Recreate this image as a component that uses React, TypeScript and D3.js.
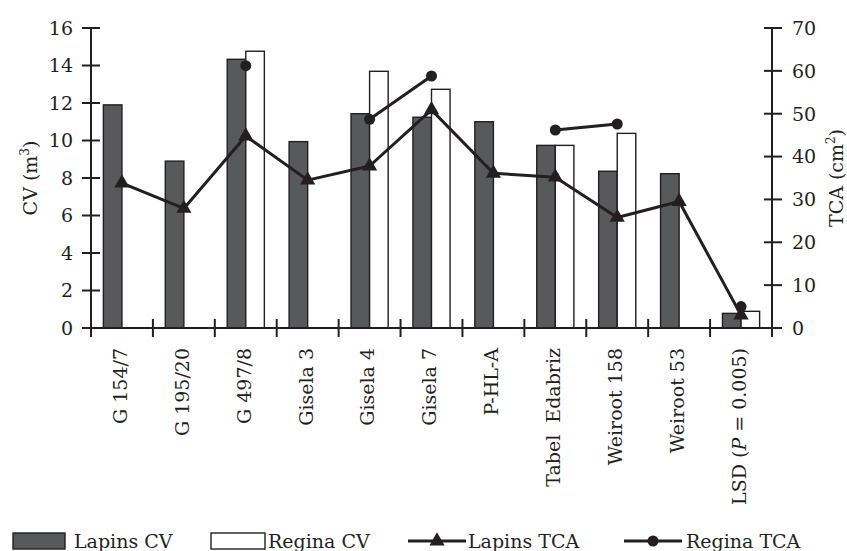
import React from "react";
import * as d3 from "d3";

const categories = ["G 154/7", "G 195/20", "G 497/8", "Gisela 3", "Gisela 4", "Gisela 7", "P-HL-A", "Tabel  Edabriz", "Weiroot 158", "Weiroot 53", "LSD"];
const lapinsCV = [11.9, 8.9, 14.33, 9.94, 11.43, 11.24, 11.0, 9.74, 8.36, 8.23, 0.78];
const reginaCV: (number | null)[] = [null, null, 14.76, null, 13.69, 12.73, null, 9.74, 10.38, null, 0.89];
const lapinsTCA = [33.8, 27.9, 44.8, 34.5, 37.8, 50.9, 36.1, 35.2, 25.8, 29.5, 3.0];
const reginaTCA: (number | null)[] = [null, null, 61.2, null, 48.7, 58.8, null, 46.2, 47.6, null, 5.0];
const leftTicks = [0, 2, 4, 6, 8, 10, 12, 14, 16];
const rightTicks = [0, 10, 20, 30, 40, 50, 60, 70];

const FONT = "'DejaVu Serif', serif";
const INK = "#231f20";
const BAR = "#58595b";

export default function App() {
  const x = d3.scaleBand<string>().domain(categories).range([91, 772]).padding(0);
  const yL = d3.scaleLinear().domain([0, 16]).range([328, 28]);
  const yR = d3.scaleLinear().domain([0, 70]).range([328, 28]);
  const bw = x.bandwidth() * 0.3;
  const cx = (i: number) => (x(categories[i]) as number) + x.bandwidth() / 2;

  const lapLine = d3.line<number>().x((_, i) => cx(i)).y((d) => yR(d));
  const regLine = d3
    .line<number | null>()
    .defined((d) => d != null)
    .x((_, i) => cx(i))
    .y((d) => yR(d as number));
  const tri = d3.symbol(d3.symbolTriangle, 100)() as string;

  const tickXs = d3.range(categories.length + 1).map((i) => 91 + i * x.bandwidth());

  return (
    <svg width={847} height={551} style={{ position: "absolute", left: 0, top: 0, background: "#fff" }} fontFamily={FONT}>
      {/* bars */}
      {lapinsCV.map((v, i) => (
        <rect key={"l" + i} x={cx(i) - bw} y={yL(v)} width={bw} height={yL(0) - yL(v)} fill={BAR} stroke={INK} strokeWidth={1.4} />
      ))}
      {reginaCV.map((v, i) =>
        v == null ? null : (
          <rect key={"r" + i} x={cx(i)} y={yL(v)} width={bw} height={yL(0) - yL(v)} fill="#fff" stroke={INK} strokeWidth={1.4} />
        )
      )}
      {/* lines */}
      <path d={lapLine(lapinsTCA) as string} fill="none" stroke={INK} strokeWidth={3} strokeLinejoin="round" />
      <path d={regLine(reginaTCA) as string} fill="none" stroke={INK} strokeWidth={3} />
      {lapinsTCA.map((v, i) => (
        <path key={"t" + i} d={tri} transform={`translate(${cx(i)},${yR(v)})`} fill={INK} />
      ))}
      {reginaTCA.map((v, i) =>
        v == null ? null : <circle key={"c" + i} cx={cx(i)} cy={yR(v)} r={5.5} fill={INK} />
      )}
      {/* axes */}
      <line x1={91} x2={91} y1={28} y2={328} stroke={INK} strokeWidth={2} />
      <line x1={772} x2={772} y1={28} y2={328} stroke={INK} strokeWidth={2} />
      <line x1={91} x2={772} y1={328} y2={328} stroke={INK} strokeWidth={2} />
      {leftTicks.map((t) => (
        <g key={"lt" + t}>
          <line x1={82} x2={100} y1={yL(t)} y2={yL(t)} stroke={INK} strokeWidth={2} />
          <text x={73} y={yL(t)} dy="0.36em" textAnchor="end" fontSize={19} fill={INK}>{t}</text>
        </g>
      ))}
      {rightTicks.map((t) => (
        <g key={"rt" + t}>
          <line x1={764} x2={782} y1={yR(t)} y2={yR(t)} stroke={INK} strokeWidth={2} />
          <text x={792} y={yR(t)} dy="0.36em" textAnchor="start" fontSize={19} fill={INK}>{t}</text>
        </g>
      ))}
      {tickXs.map((tx, i) => (
        <line key={"xt" + i} x1={tx} x2={tx} y1={319} y2={337} stroke={INK} strokeWidth={2} />
      ))}
      {categories.map((c, i) => (
        <text key={"cl" + i} transform={`translate(${cx(i) - 2},${348}) rotate(-90)`} dy="0.36em" textAnchor="end" fontSize={19} fill={INK} style={{ whiteSpace: "pre" }}>
          {c === "LSD" ? (
            <>
              LSD (<tspan fontStyle="italic">P</tspan> = 0.005)
            </>
          ) : (
            c
          )}
        </text>
      ))}
      {/* axis titles */}
      <text transform={`translate(30,178) rotate(-90)`} dy="0.36em" textAnchor="middle" fontSize={19} fill={INK}>
        CV (m<tspan fontSize={12} dy="-8">3</tspan><tspan dy="8">)</tspan>
      </text>
      <text transform={`translate(836,178) rotate(-90)`} dy="0.36em" textAnchor="middle" fontSize={19} fill={INK}>
        TCA (cm<tspan fontSize={12} dy="-8">2</tspan><tspan dy="8">)</tspan>
      </text>
      {/* legend */}
      <rect x={13} y={533} width={52} height={16} fill={BAR} stroke={INK} strokeWidth={1.4} />
      <text x={74} y={548} fontSize={19} fill={INK}>Lapins CV</text>
      <rect x={211} y={533} width={54} height={16} fill="#fff" stroke={INK} strokeWidth={1.4} />
      <text x={268} y={548} fontSize={19} fill={INK}>Regina CV</text>
      <line x1={408} x2={466} y1={541} y2={541} stroke={INK} strokeWidth={3} />
      <path d={tri} transform="translate(437,541)" fill={INK} />
      <text x={468} y={548} fontSize={19} fill={INK}>Lapins TCA</text>
      <line x1={624} x2={682} y1={541} y2={541} stroke={INK} strokeWidth={3} />
      <circle cx={653} cy={541} r={5.5} fill={INK} />
      <text x={686} y={548} fontSize={19} fill={INK}>Regina TCA</text>
    </svg>
  );
}
